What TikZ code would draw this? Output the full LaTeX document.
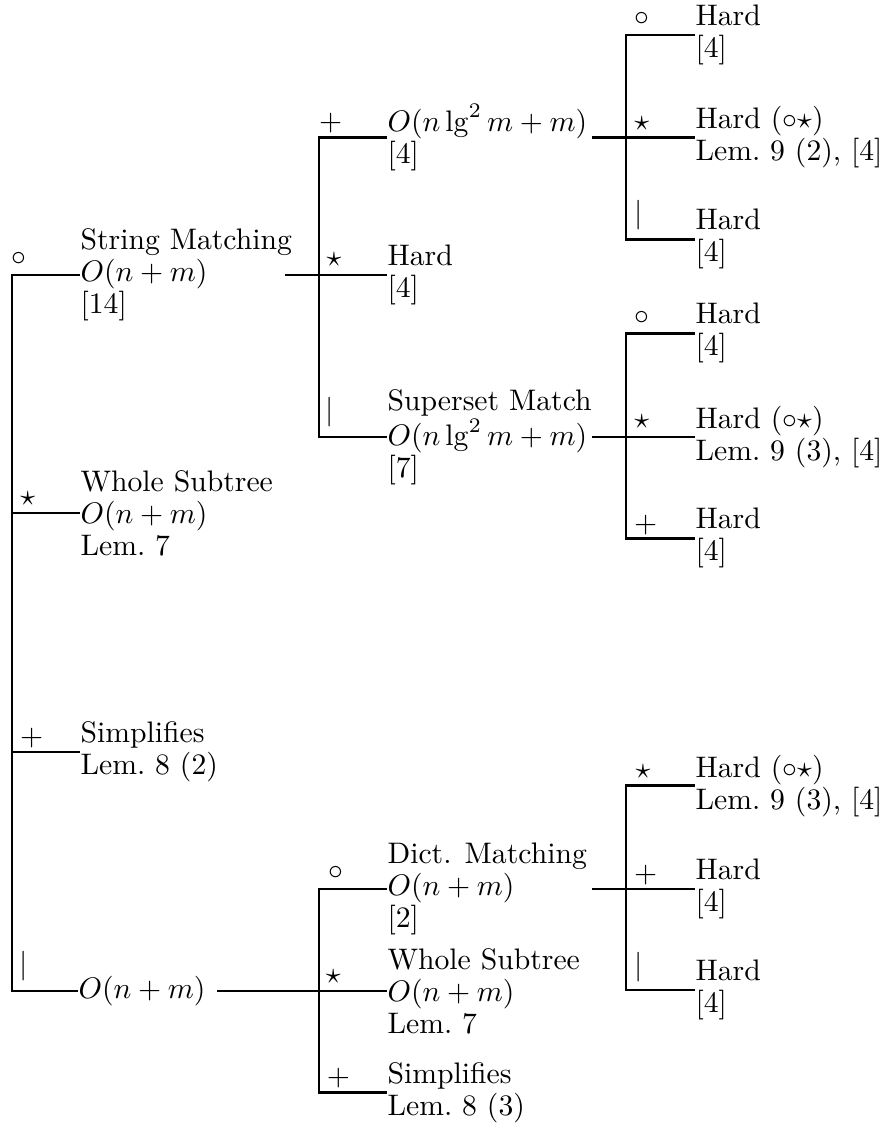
\documentclass[tikz,border=0pt]{standalone}
\usepackage{amsmath,amssymb}
\usepackage{tikz}

\begin{document}
\begin{tikzpicture}[x=0.3367pt,y=-0.3367pt,
    txt/.style={anchor=west,inner sep=0pt,align=left,font=\fontsize{10pt}{10.8pt}\selectfont},
    lbl/.style={inner sep=0pt},
    edge/.style={line width=0.9pt}]
\useasboundingbox (0,0) rectangle (887,1128);

\node[txt] (sm) at (80,275) {String Matching\\$O(n+m)$\\{[14]}};
\node[txt] (ws) at (80,513) {Whole Subtree\\$O(n+m)$\\Lem.~7};
\node[txt] (si) at (80,752) {Simplifies\\Lem.~8 (2)};
\node[txt] (lo) at (78,991) {$O(n+m)$};

\node[txt] (pa) at (387,137.5) {$O(n\lg^2 m+m)$\\{[4]}};
\node[txt] (ha) at (387,275) {Hard\\{[4]}};
\node[txt] (sup) at (387,437) {Superset Match\\$O(n\lg^2 m+m)$\\{[7]}};
\node[txt] (dm) at (387,889) {Dict. Matching\\$O(n+m)$\\{[2]}};
\node[txt] (ws2) at (387,991) {Whole Subtree\\$O(n+m)$\\Lem.~7};
\node[txt] (si2) at (387,1092.7) {Simplifies\\Lem.~8 (3)};

\node[txt] (h1) at (695,35) {Hard\\{[4]}};
\node[txt] (h2) at (695,137.5) {Hard ($\circ\star$)\\Lem.~9 (2), [4]};
\node[txt] (h3) at (695,239.3) {Hard\\{[4]}};
\node[txt] (h4) at (695,333.3) {Hard\\{[4]}};
\node[txt] (h5) at (695,437) {Hard ($\circ\star$)\\Lem.~9 (3), [4]};
\node[txt] (h6) at (695,538.3) {Hard\\{[4]}};
\node[txt] (h7) at (695,785.7) {Hard ($\circ\star$)\\Lem.~9 (3), [4]};
\node[txt] (h8) at (695,889) {Hard\\{[4]}};
\node[txt] (h9) at (695,990) {Hard\\{[4]}};

\coordinate (fa) at (12,600);
\coordinate (fb) at (319,300);
\coordinate (fc) at (319,1000);
\coordinate (fd) at (626,130);
\coordinate (fe) at (626,430);
\coordinate (ff) at (626,880);
\coordinate (smo) at (285,275);
\coordinate (loo) at (217,991);
\coordinate (pao) at (592,137.5);
\coordinate (supo) at (592,437);
\coordinate (dmo) at (592,889);

\draw[edge] (sm.west) -| (fa) |- (lo.west);
\draw[edge] (ws.west) -- (ws.west -| fa);
\draw[edge] (si.west) -- (si.west -| fa);

\draw[edge] (pa.west) -| (fb) |- (sup.west);
\draw[edge] (smo) -- (ha.west);
\draw[edge] (dm.west) -| (fc) |- (si2.west);
\draw[edge] (loo) -- (ws2.west);

\draw[edge] (h1.west) -| (fd) |- (h3.west);
\draw[edge] (pao) -- (h2.west);
\draw[edge] (h4.west) -| (fe) |- (h6.west);
\draw[edge] (supo) -- (h5.west);
\draw[edge] (h7.west) -| (ff) |- (h9.west);
\draw[edge] (dmo) -- (h8.west);

\foreach \sym/\px/\py [count=\i] in {
    \circ/19.3/259.3, \star/27.7/499, +/31.7/738.3, |/23.3/966,
    +/330.7/122.7, \star/334/260, |/330/412,
    \circ/336/873, \star/333.3/976.7, +/338.3/1078.3,
    \circ/641.7/19.3, \star/641.7/124, |/639/215,
    \circ/641.7/318.3, \star/641.7/421.7, +/645.7/525,
    \star/643/771.7, +/645.7/875, |/639/966.7}
  \node[lbl] (op\i) at (\px,\py) {$\sym$};
\end{tikzpicture}
\end{document}
